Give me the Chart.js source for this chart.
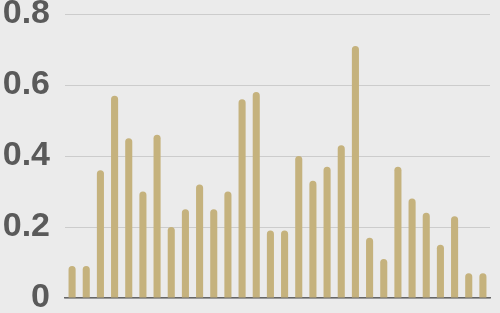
<!DOCTYPE html>
<html><head><meta charset="utf-8">
<script src="https://cdn.jsdelivr.net/npm/chart.js@4/dist/chart.umd.min.js"></script>
<style>html,body{margin:0;padding:0;background:#ebebeb;}#wrap{width:500px;height:313px;}</style>
</head><body><div id="wrap"><canvas id="c" width="500" height="313"></canvas></div>
<script>
const categories = Array.from({length:30}, (_, i) => String(i + 1));
const values = [0.09,0.09,0.36,0.57,0.45,0.30,0.46,0.20,0.25,0.32,0.25,0.30,0.56,0.58,0.19,
                0.19,0.40,0.33,0.37,0.43,0.71,0.17,0.11,0.37,0.28,0.24,0.15,0.23,0.07,0.07];
const yTicks = [0, 0.2, 0.4, 0.6, 0.8];

new Chart(document.getElementById('c'), {
  type: 'bar',
  data: { labels: categories, datasets: [{ data: values, backgroundColor: '#c5b27d',
    borderRadius: {topLeft: 4, topRight: 4, bottomLeft: 0, bottomRight: 0}, borderSkipped: 'bottom',
    barPercentage: 0.5, categoryPercentage: 1.0 }] },
  options: {
    responsive: false, animation: false,
    layout: { padding: { left: 0, right: 10, top: 0, bottom: 0 } },
    plugins: { legend: { display: false }, tooltip: { enabled: false } },
    scales: {
      x: { grid: { display: false, drawTicks: false }, ticks: { display: false },
           afterFit: s => { s.height = 0; },
           border: { display: true, color: '#666666', width: 1.5 } },
      y: { min: 0, max: 0.8,
           afterBuildTicks: s => { s.ticks = yTicks.map(v => ({value: v})); },
           afterFit: s => { s.width = 65; s.paddingTop = 14; s.paddingBottom = 15; },
           grid: { color: '#cccccc', drawTicks: false, lineWidth: 1 },
           border: { display: false },
           ticks: { padding: 15, color: '#5a5a5a',
             font: { family: 'Liberation Sans', size: 34, weight: 'bold' },
             callback: v => String(v) } }
    }
  },
  plugins: [{ id: 'bg', beforeDraw: c => { const x = c.ctx; x.save(); x.fillStyle = '#ebebeb'; x.fillRect(0,0,c.width,c.height); x.restore(); } }]
});
</script></body></html>
